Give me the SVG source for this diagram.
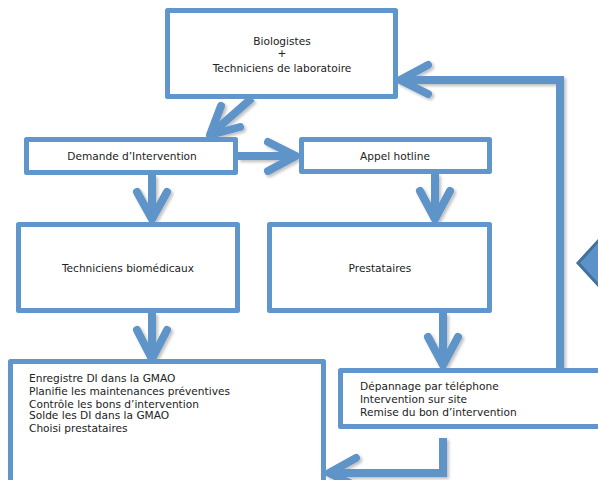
<svg xmlns="http://www.w3.org/2000/svg" width="598" height="480" viewBox="0 0 598 480">
<style>
.box{fill:#fff;stroke:#6096CB;stroke-width:5;stroke-linejoin:round}
.t{font-family:"DejaVu Sans",Verdana,sans-serif;font-size:10.6px;fill:#222}
.c{text-anchor:middle}
.ln{fill:none;stroke:#5E94C9;stroke-width:8;stroke-linecap:butt;stroke-linejoin:miter}
.hd{fill:none;stroke:#5E94C9;stroke-width:8;stroke-linecap:round;stroke-linejoin:round}
</style>
<defs>
<filter id="sh" x="-20%" y="-20%" width="140%" height="140%">
<feDropShadow dx="2" dy="2" stdDeviation="1.5" flood-color="#000" flood-opacity="0.25"/>
</filter>
</defs>
<g id="connectors" filter="url(#sh)">
<line class="ln" x1="252" y1="98" x2="211" y2="134"/>
<polyline class="hd" points="221,106 210,135 240,127"/>
<line class="ln" x1="238" y1="156" x2="294" y2="156"/>
<polyline class="hd" points="268,142 296,156 268,171"/>
<line class="ln" x1="152" y1="175" x2="152" y2="218"/>
<polyline class="hd" points="137,192 152,219 167,192"/>
<line class="ln" x1="435" y1="174" x2="435" y2="218"/>
<polyline class="hd" points="420,191 435,219 450,191"/>
<line class="ln" x1="152" y1="313" x2="152" y2="358"/>
<polyline class="hd" points="137,330 152,359 167,330"/>
<line class="ln" x1="443" y1="313" x2="443" y2="364"/>
<polyline class="hd" points="428,337 443,365 458,337"/>
<polyline class="ln" points="560,370 560,80 402,80"/>
<polyline class="hd" points="428,65 400,80 428,94"/>
<polyline class="ln" points="443,438 443,473 331,473"/>
<polyline class="hd" points="356,458 329,473 356,486"/>
</g>
<g id="n-bio"><rect class="box" x="167.5" y="10.5" width="228" height="86"/>
<text class="t c" x="282" y="45">Biologistes</text>
<text class="t c" x="282" y="57">+</text>
<text class="t c" x="282" y="72">Techniciens de laboratoire</text></g>
<g id="n-di"><rect class="box" x="26.5" y="139.5" width="209" height="33"/>
<text class="t c" x="132" y="160">Demande d’Intervention</text></g>
<g id="n-hot"><rect class="box" x="301.5" y="139.5" width="188" height="32"/>
<text class="t c" x="395" y="160">Appel hotline</text></g>
<g id="n-tb"><rect class="box" x="18.5" y="224.5" width="219" height="86"/>
<text class="t c" x="128" y="272">Techniciens biomédicaux</text></g>
<g id="n-pr"><rect class="box" x="269.5" y="224.5" width="220" height="86"/>
<text class="t c" x="380" y="272">Prestataires</text></g>
<g id="n-gmao"><rect class="box" x="10.5" y="361.5" width="313" height="130"/>
<text class="t" x="29" y="382">Enregistre DI dans la GMAO</text>
<text class="t" x="29" y="395">Planifie les maintenances préventives</text>
<text class="t" x="29" y="408">Contrôle les bons d’intervention</text>
<text class="t" x="29" y="419">Solde les DI dans la GMAO</text>
<text class="t" x="29" y="432">Choisi prestataires</text></g>
<g id="n-dep"><rect class="box" x="340.5" y="370.5" width="270" height="56"/>
<text class="t" x="360" y="390">Dépannage par téléphone</text>
<text class="t" x="360" y="403">Intervention sur site</text>
<text class="t" x="360" y="416">Remise du bon d’intervention</text></g>
<g id="n-dia"><polygon points="578,263 610,228 642,263 610,298" fill="#5B92C8" stroke="#41719C" stroke-width="3"/></g>
</svg>
